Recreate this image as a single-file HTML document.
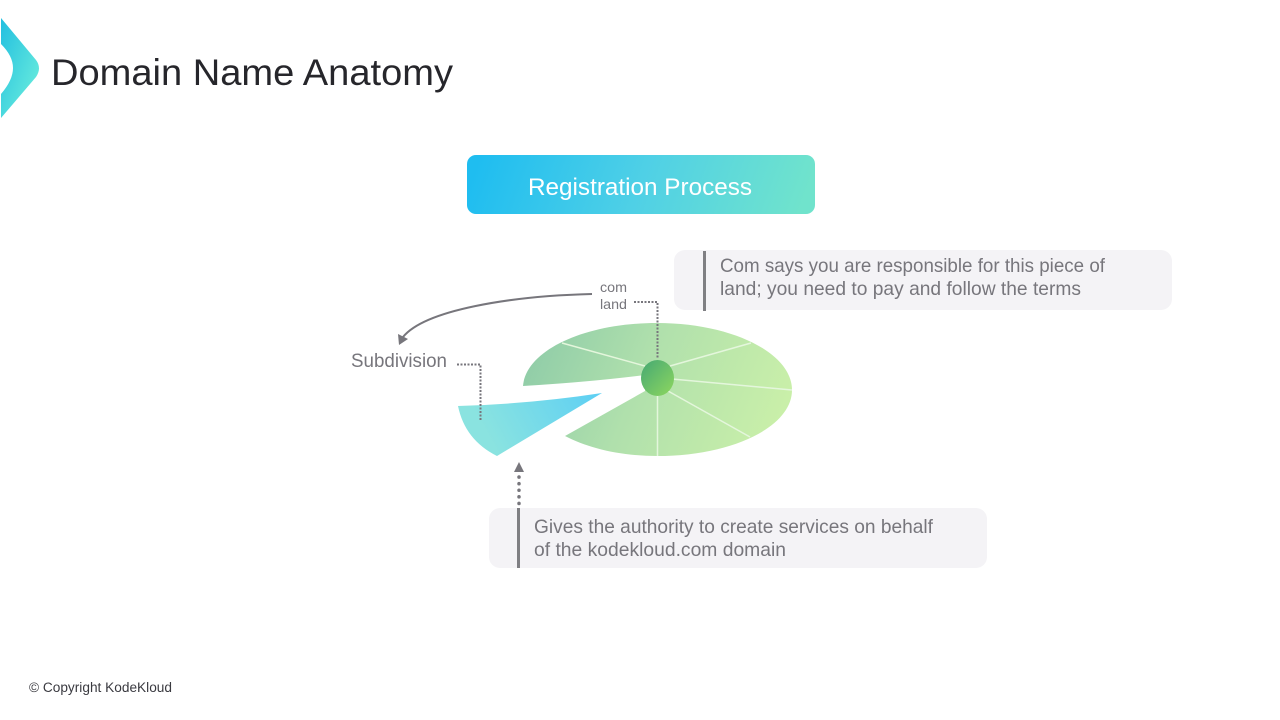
<!DOCTYPE html>
<html lang="en">
<head>
<meta charset="utf-8">
<title>Domain Name Anatomy</title>
<style>
html,body{margin:0;padding:0;background:#fff;width:1280px;height:720px;overflow:hidden}
svg{display:block}
text{font-family:"Liberation Sans",sans-serif}
</style>
</head>
<body>
<svg width="1280" height="720" viewBox="0 0 1280 720" xmlns="http://www.w3.org/2000/svg">
<defs>
<linearGradient id="logo" x1="0" y1="0" x2="1" y2="1">
<stop offset="0" stop-color="#22bfe0"/><stop offset="1" stop-color="#72f2dc"/>
</linearGradient>
<linearGradient id="btn" gradientUnits="userSpaceOnUse" x1="490" y1="130" x2="790" y2="240">
<stop offset="0" stop-color="#1fbdf0"/><stop offset="0.5" stop-color="#4fd0e6"/><stop offset="1" stop-color="#70e3cc"/>
</linearGradient>
<linearGradient id="pie" gradientUnits="userSpaceOnUse" x1="530" y1="340" x2="770" y2="440">
<stop offset="0" stop-color="#8fcca8"/><stop offset="0.45" stop-color="#b0e0ac"/><stop offset="1" stop-color="#c9efa9"/>
</linearGradient>
<linearGradient id="wedge" gradientUnits="userSpaceOnUse" x1="590" y1="385" x2="490" y2="440">
<stop offset="0" stop-color="#5fd0f3"/><stop offset="1" stop-color="#8ae3e0"/>
</linearGradient>
<linearGradient id="hub" x1="0" y1="0" x2="1" y2="1">
<stop offset="0" stop-color="#45a873"/><stop offset="1" stop-color="#8ed75f"/>
</linearGradient>
</defs>

<path d="M1 18 L36 60 Q42 68 36 77 L1 118 L1 94 Q13 80 13 68 Q13 56 1 44 Z" fill="url(#logo)"/>
<text x="51" y="85" font-size="37" fill="#26262b" textLength="402" lengthAdjust="spacingAndGlyphs">Domain Name Anatomy</text>

<rect x="467" y="155" width="348" height="59" rx="9" fill="url(#btn)"/>
<text x="528" y="195" font-size="24" fill="#fff" textLength="224" lengthAdjust="spacingAndGlyphs">Registration Process</text>

<rect x="674" y="250" width="498" height="60" rx="11" fill="#f4f3f6"/>
<rect x="703" y="251" width="3" height="60" fill="#7f7f83"/>
<text x="720" y="272" font-size="19.5" fill="#77767c" textLength="385" lengthAdjust="spacingAndGlyphs">Com says you are responsible for this piece of</text>
<text x="720" y="295" font-size="19.5" fill="#77767c" textLength="361" lengthAdjust="spacingAndGlyphs">land; you need to pay and follow the terms</text>

<rect x="489" y="508" width="498" height="60" rx="11" fill="#f4f3f6"/>
<rect x="517" y="508" width="3" height="60" fill="#7f7f83"/>
<text x="534" y="533" font-size="19.5" fill="#77767c" textLength="399" lengthAdjust="spacingAndGlyphs">Gives the authority to create services on behalf</text>
<text x="534" y="556" font-size="19.5" fill="#77767c" textLength="252" lengthAdjust="spacingAndGlyphs">of the kodekloud.com domain</text>

<path d="M523 386 C526 350 585 323 657 323 C732 323 792 353 792 390 C792 427 732 456 657 456 C620 456 588 448 565 436 L645 391 L645 375 Q590 382 523 386 Z" fill="url(#pie)"/>
<g stroke="#e4f6dc" stroke-width="1.5" fill="none">
<line x1="562" y1="343" x2="645" y2="366"/>
<line x1="751" y1="343" x2="670" y2="366"/>
<line x1="792" y1="390" x2="672" y2="379"/>
<line x1="750" y1="437" x2="668" y2="391"/>
<line x1="657.5" y1="456" x2="657.5" y2="394"/>
</g>
<path d="M458 406 Q530 404 602 393 L497 456 Q465 440 458 406 Z" fill="url(#wedge)"/>
<ellipse cx="657.5" cy="378" rx="16.500" ry="18" fill="url(#hub)"/>

<path d="M592 294 C510 296 425 310 403 337" fill="none" stroke="#77767c" stroke-width="2"/>
<polygon points="399,345 398,334 408,339" fill="#77767c"/>
<text x="600" y="292" font-size="14" fill="#77767c" textLength="27" lengthAdjust="spacingAndGlyphs">com</text>
<text x="600" y="309" font-size="14" fill="#77767c" textLength="27" lengthAdjust="spacingAndGlyphs">land</text>
<text x="351" y="367" font-size="19.5" fill="#77767c" textLength="96" lengthAdjust="spacingAndGlyphs">Subdivision</text>

<g fill="none" stroke="#77767c" stroke-width="2" stroke-dasharray="2 1.5">
<path d="M634 302 H657.5 V358"/>
<path d="M457 364.500 H480.500 V420"/>
</g>
<path d="M519 503.500 V476" fill="none" stroke="#77767c" stroke-width="3.500" stroke-linecap="round" stroke-dasharray="0.1 6.500"/>
<polygon points="519,462 524,472 514,472" fill="#77767c"/>

<text x="29" y="692" font-size="13.500" fill="#3a3a40" textLength="143" lengthAdjust="spacingAndGlyphs">© Copyright KodeKloud</text>
</svg>
</body>
</html>
